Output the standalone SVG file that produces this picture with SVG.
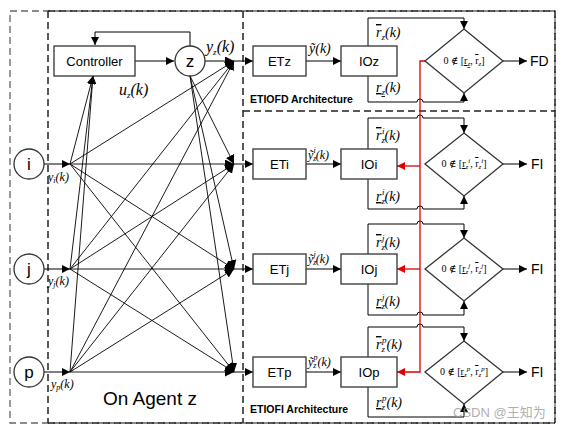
<svg xmlns="http://www.w3.org/2000/svg" width="566" height="432" viewBox="0 0 566 432">
<defs>
<marker id="a" markerUnits="userSpaceOnUse" markerWidth="10" markerHeight="10" refX="8" refY="4" orient="auto"><path d="M0,0 L8,4 L0,8 z" fill="#000"/></marker>
<marker id="ab" markerUnits="userSpaceOnUse" markerWidth="12" markerHeight="12" refX="9" refY="4.5" orient="auto"><path d="M0,0 L9,4.5 L0,9 z" fill="#000"/></marker>
<marker id="ar" markerUnits="userSpaceOnUse" markerWidth="10" markerHeight="10" refX="8" refY="4" orient="auto"><path d="M0,0 L8,4 L0,8 z" fill="#e00000"/></marker>
<style>
.box{fill:#fff;stroke:#333;stroke-width:1.3}
.ln{fill:none;stroke:#000;stroke-width:1}
.lt{fill:none;stroke:#000;stroke-width:0.9}
.red{fill:none;stroke:#e00000;stroke-width:1.3}
.dash{fill:none;stroke:#222;stroke-width:1.5;stroke-dasharray:7 4}
.dashg{fill:none;stroke:#666;stroke-width:1.3;stroke-dasharray:7 4}
.t{font-family:"Liberation Sans","Open Sans",sans-serif;font-size:13px;fill:#000}
.big{font-size:19px}
.fd{font-size:14px}
.c{font-family:"Liberation Sans","Open Sans",sans-serif;font-size:17px;fill:#000;text-anchor:middle}
.b{font-family:"Liberation Sans","Open Sans",sans-serif;font-size:10.5px;font-weight:bold;fill:#000}
.m{font-family:"Liberation Serif","DejaVu Serif",serif;font-style:italic;fill:#000}
.s{font-size:9px}
.d{font-family:"Liberation Serif","DejaVu Serif",serif;font-size:10px;fill:#000;text-anchor:middle}
.ds{font-size:7px;font-style:italic}
.ov{text-decoration:overline}
.un{text-decoration:underline}
</style>
</defs>

<g id="frames">
<rect class="dashg" x="10" y="11" width="545" height="412"/>
<line class="dash" x1="48" y1="11" x2="48" y2="423"/>
<line class="dash" x1="243" y1="11" x2="243" y2="423"/>
<line class="dash" x1="48" y1="11" x2="555" y2="11"/>
<line class="dash" x1="48" y1="423" x2="555" y2="423"/>
<line class="dash" x1="555" y1="11" x2="555" y2="423"/>
<line class="dash" x1="243" y1="111" x2="555" y2="111"/>
</g>

<g id="connectors">
<path class="ln" d="M190,46 V32 H95 V45" marker-end="url(#a)"/>
<line class="ln" x1="135" y1="61" x2="174" y2="61" marker-end="url(#a)"/>
<line class="ln" x1="205" y1="61" x2="234" y2="61" marker-end="url(#ab)"/>
<line class="ln" x1="44" y1="164" x2="70" y2="164" marker-end="url(#a)"/>
<line class="ln" x1="44" y1="269" x2="70" y2="269" marker-end="url(#a)"/>
<line class="ln" x1="44" y1="372" x2="70" y2="372" marker-end="url(#a)"/>
<line class="lt" x1="70" y1="164" x2="93" y2="76" marker-end="url(#a)"/>
<line class="lt" x1="70" y1="269" x2="93" y2="76" marker-end="url(#a)"/>
<line class="lt" x1="70" y1="372" x2="93" y2="76" marker-end="url(#a)"/>
<line class="lt" x1="70" y1="164" x2="234" y2="61" marker-end="url(#ab)"/>
<line class="lt" x1="70" y1="164" x2="234" y2="164" marker-end="url(#ab)"/>
<line class="lt" x1="70" y1="164" x2="234" y2="269" marker-end="url(#ab)"/>
<line class="lt" x1="70" y1="164" x2="234" y2="372" marker-end="url(#ab)"/>
<line class="lt" x1="70" y1="269" x2="234" y2="61" marker-end="url(#ab)"/>
<line class="lt" x1="70" y1="269" x2="234" y2="164" marker-end="url(#ab)"/>
<line class="lt" x1="70" y1="269" x2="234" y2="269" marker-end="url(#ab)"/>
<line class="lt" x1="70" y1="269" x2="234" y2="372" marker-end="url(#ab)"/>
<line class="lt" x1="70" y1="372" x2="234" y2="61" marker-end="url(#ab)"/>
<line class="lt" x1="70" y1="372" x2="234" y2="164" marker-end="url(#ab)"/>
<line class="lt" x1="70" y1="372" x2="234" y2="269" marker-end="url(#ab)"/>
<line class="lt" x1="70" y1="372" x2="234" y2="372" marker-end="url(#ab)"/>
<line class="lt" x1="190" y1="76" x2="234" y2="164" marker-end="url(#ab)"/>
<line class="lt" x1="190" y1="76" x2="234" y2="269" marker-end="url(#ab)"/>
<line class="lt" x1="190" y1="76" x2="234" y2="372" marker-end="url(#ab)"/>
<line class="ln" x1="234" y1="61" x2="253" y2="61" marker-end="url(#a)"/>
<line class="ln" x1="234" y1="164" x2="253" y2="164" marker-end="url(#a)"/>
<line class="ln" x1="234" y1="269" x2="253" y2="269" marker-end="url(#a)"/>
<line class="ln" x1="234" y1="372" x2="253" y2="372" marker-end="url(#a)"/>
<line class="ln" x1="306" y1="61" x2="341" y2="61" marker-end="url(#a)"/>
<line class="ln" x1="306" y1="164" x2="341" y2="164" marker-end="url(#a)"/>
<line class="ln" x1="306" y1="269" x2="341" y2="269" marker-end="url(#a)"/>
<line class="ln" x1="306" y1="372" x2="341" y2="372" marker-end="url(#a)"/>
<path class="ln" d="M368,46 V18 H464 V29" marker-end="url(#a)"/>
<path class="ln" d="M368,76 V102 H417 a3,3 0 0 1 6,0 H464 V93" marker-end="url(#a)"/>
<path class="ln" d="M368,149 V118 H417 a3,3 0 0 1 6,0 H464 V133" marker-end="url(#a)"/>
<path class="ln" d="M368,179 V209 H417 a3,3 0 0 1 6,0 H464 V196" marker-end="url(#a)"/>
<path class="ln" d="M368,254 V224 H417 a3,3 0 0 1 6,0 H464 V238" marker-end="url(#a)"/>
<path class="ln" d="M368,284 V315 H417 a3,3 0 0 1 6,0 H464 V301" marker-end="url(#a)"/>
<path class="ln" d="M368,357 V327 H417 a3,3 0 0 1 6,0 H464 V341" marker-end="url(#a)"/>
<path class="ln" d="M368,387 V417 H464 V404" marker-end="url(#a)"/>
<line class="ln" x1="503" y1="61" x2="527" y2="61" marker-end="url(#a)"/>
<line class="ln" x1="503" y1="164" x2="527" y2="164" marker-end="url(#a)"/>
<line class="ln" x1="503" y1="269" x2="527" y2="269" marker-end="url(#a)"/>
<line class="ln" x1="503" y1="372" x2="527" y2="372" marker-end="url(#a)"/>
<path class="red" d="M425,61 H420 V372 H397" marker-end="url(#ar)"/>
<line class="red" x1="420" y1="166" x2="397" y2="166" marker-end="url(#ar)"/>
<line class="red" x1="420" y1="269" x2="397" y2="269" marker-end="url(#ar)"/>
</g>

<g id="controller"><rect class="box" x="54" y="46" width="81" height="30"/><text class="t" x="94.5" y="65.5" text-anchor="middle">Controller</text></g>
<g id="agent-z"><circle class="box" cx="190" cy="61" r="15"/><text class="c" x="190" y="67">z</text></g>
<g id="agent-i"><circle class="box" cx="29" cy="164" r="15"/><text class="c" x="29" y="170">i</text></g>
<g id="agent-j"><circle class="box" cx="29" cy="269" r="15"/><text class="c" x="29" y="275">j</text></g>
<g id="agent-p"><circle class="box" cx="29" cy="372" r="15"/><text class="c" x="29" y="378">p</text></g>

<g id="et-z"><rect class="box" x="253" y="46" width="53" height="30"/><text class="t" x="279.5" y="66" text-anchor="middle">ETz</text></g>
<g id="io-z"><rect class="box" x="341" y="46" width="56" height="30"/><text class="t" x="369" y="66" text-anchor="middle">IOz</text></g>
<g id="dec-z"><path class="box" d="M464,29 L503,61 L464,93 L425,61 z"/><text class="d" x="464" y="64">0 ∉ [<tspan class="un">r<tspan class="ds" dy="2">z</tspan></tspan><tspan dy="-2">, </tspan><tspan class="ov">r</tspan><tspan class="ds" dy="2">z</tspan><tspan dy="-2">]</tspan></text></g>

<g id="et-i"><rect class="box" x="253" y="149" width="53" height="30"/><text class="t" x="279.5" y="169" text-anchor="middle">ETi</text></g>
<g id="io-i"><rect class="box" x="341" y="149" width="56" height="30"/><text class="t" x="369" y="169" text-anchor="middle">IOi</text></g>
<g id="dec-i"><path class="box" d="M464,133 L503,164 L464,196 L425,164 z"/><text class="d" x="464" y="167">0 ∉ [<tspan class="un">r</tspan><tspan class="ds" dy="2">z</tspan><tspan class="ds" dy="-6">i</tspan><tspan dy="4">, </tspan><tspan class="ov">r</tspan><tspan class="ds" dy="2">z</tspan><tspan class="ds" dy="-6">i</tspan><tspan dy="4">]</tspan></text></g>

<g id="et-j"><rect class="box" x="253" y="254" width="53" height="30"/><text class="t" x="279.5" y="274" text-anchor="middle">ETj</text></g>
<g id="io-j"><rect class="box" x="341" y="254" width="56" height="30"/><text class="t" x="369" y="274" text-anchor="middle">IOj</text></g>
<g id="dec-j"><path class="box" d="M464,238 L503,269 L464,301 L425,269 z"/><text class="d" x="464" y="272">0 ∉ [<tspan class="un">r</tspan><tspan class="ds" dy="2">z</tspan><tspan class="ds" dy="-6">j</tspan><tspan dy="4">, </tspan><tspan class="ov">r</tspan><tspan class="ds" dy="2">z</tspan><tspan class="ds" dy="-6">j</tspan><tspan dy="4">]</tspan></text></g>

<g id="et-p"><rect class="box" x="253" y="357" width="53" height="30"/><text class="t" x="279.5" y="377" text-anchor="middle">ETp</text></g>
<g id="io-p"><rect class="box" x="341" y="357" width="56" height="30"/><text class="t" x="369" y="377" text-anchor="middle">IOp</text></g>
<g id="dec-p"><path class="box" d="M464,341 L503,372 L464,404 L425,372 z"/><text class="d" x="464" y="375">0 ∉ [<tspan class="un">r</tspan><tspan class="ds" dy="2">z</tspan><tspan class="ds" dy="-6">p</tspan><tspan dy="4">, </tspan><tspan class="ov">r</tspan><tspan class="ds" dy="2">z</tspan><tspan class="ds" dy="-6">p</tspan><tspan dy="4">]</tspan></text></g>

<g id="labels">
<text class="t fd" x="530" y="66">FD</text>
<text class="t fd" x="531" y="169">FI</text>
<text class="t fd" x="531" y="274">FI</text>
<text class="t fd" x="531" y="377">FI</text>
<text class="b" x="250" y="103">ETIOFD Architecture</text>
<text class="b" x="250" y="413">ETIOFI Architecture</text>
<text class="t big" x="150" y="405" text-anchor="middle">On Agent z</text>
<text class="m" x="206" y="52" font-size="16">y<tspan class="s" dy="3">z</tspan><tspan dy="-3">(k)</tspan></text>
<text class="m" x="119" y="95" font-size="16">u<tspan class="s" dy="3">z</tspan><tspan dy="-3">(k)</tspan></text>
<text class="m" x="48" y="181" font-size="12">y<tspan font-size="8" dy="2">i</tspan><tspan dy="-2">(k)</tspan></text>
<text class="m" x="48" y="285" font-size="12">y<tspan font-size="8" dy="2">j</tspan><tspan dy="-2">(k)</tspan></text>
<text class="m" x="51" y="388" font-size="12">y<tspan font-size="8" dy="2">p</tspan><tspan dy="-2">(k)</tspan></text>
<text class="m" x="309" y="53" font-size="14">ỹ(k)</text>
<text class="m" x="308" y="159" font-size="12">ỹ<tspan font-size="8" dy="2">z</tspan><tspan font-size="8" dx="-3" dy="-8">i</tspan><tspan dy="6">(k)</tspan></text>
<text class="m" x="308" y="263" font-size="12">ỹ<tspan font-size="8" dy="2">z</tspan><tspan font-size="8" dx="-3" dy="-8">j</tspan><tspan dy="6">(k)</tspan></text>
<text class="m" x="308" y="366" font-size="12">ỹ<tspan font-size="8" dy="2">z</tspan><tspan font-size="8" dx="-3" dy="-8">p</tspan><tspan dy="6">(k)</tspan></text>
<text class="m" x="376" y="37" font-size="14"><tspan class="ov">r</tspan><tspan class="s" dy="3">z</tspan><tspan dy="-3">(k)</tspan></text>
<text class="m" x="376" y="92" font-size="14"><tspan class="un">r<tspan class="s" dy="3">z</tspan></tspan><tspan dy="-3">(k)</tspan></text>
<text class="m" x="376" y="140" font-size="14"><tspan class="ov">r</tspan><tspan class="s" dy="3">z</tspan><tspan class="s" dx="-3" dy="-9">i</tspan><tspan dy="6">(k)</tspan></text>
<text class="m" x="376" y="201" font-size="14"><tspan class="un">r</tspan><tspan class="s" dy="3">z</tspan><tspan class="s" dx="-3" dy="-9">i</tspan><tspan dy="6">(k)</tspan></text>
<text class="m" x="376" y="247" font-size="14"><tspan class="ov">r</tspan><tspan class="s" dy="3">z</tspan><tspan class="s" dx="-3" dy="-9">j</tspan><tspan dy="6">(k)</tspan></text>
<text class="m" x="376" y="306" font-size="14"><tspan class="un">r</tspan><tspan class="s" dy="3">z</tspan><tspan class="s" dx="-3" dy="-9">j</tspan><tspan dy="6">(k)</tspan></text>
<text class="m" x="376" y="349" font-size="14"><tspan class="ov">r</tspan><tspan class="s" dy="3">z</tspan><tspan class="s" dx="-3" dy="-9">p</tspan><tspan dy="6">(k)</tspan></text>
<text class="m" x="376" y="407" font-size="14"><tspan class="un">r</tspan><tspan class="s" dy="3">z</tspan><tspan class="s" dx="-3" dy="-9">p</tspan><tspan dy="6">(k)</tspan></text>
<text x="453" y="417" font-family="Liberation Sans, Noto Sans CJK SC, sans-serif" font-size="13" fill="#999" fill-opacity="0.8">CSDN @王知为</text>
</g>
</svg>
